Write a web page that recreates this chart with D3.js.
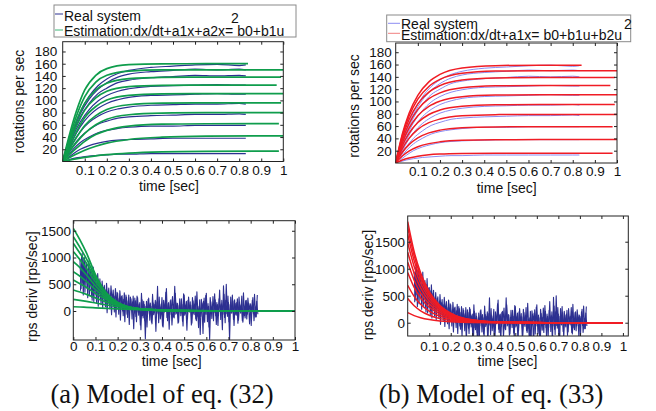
<!DOCTYPE html>
<html>
<head>
<meta charset="utf-8">
<script src="https://cdn.jsdelivr.net/npm/d3@7"></script>
<style>
  body { margin: 0; background: #fff; }
  svg { display: block; }
</style>
</head>
<body>
<script>

// sample times of the estimated responses
var estTimes = [0, 0.03, 0.06, 0.1, 0.15, 0.2, 0.3, 0.45, 0.65, 1.0];

// model of eq. (32): rotations per sec, one row per experiment
var rpsA = [
    [0, 43, 80, 117, 141, 152, 158.4, 159.8, 160, 160],
    [0, 38, 72, 106, 130, 141, 148, 149.8, 150, 150],
    [0, 34, 64, 95, 117, 128, 135.6, 137.7, 138, 138],
    [0, 30, 56, 84, 104, 115, 122.5, 124.6, 125, 125],
    [0, 25, 47, 72, 90, 100.5, 108.2, 110.5, 111, 111],
    [0, 20, 38, 59, 75, 85, 92.8, 95.4, 96, 96],
    [0, 16, 30, 46, 60, 69, 76.5, 79.2, 79.9, 80],
    [0, 11, 21, 33, 44, 51, 58, 61, 61.8, 62],
    [0, 6.2, 11.8, 18.5, 25, 30, 36, 39.8, 41.4, 42],
    [0, 2.3, 4.4, 6.8, 9.3, 11.2, 13.8, 15.8, 16.7, 17]
];
var rpsEndA = [0.84, 1.0, 0.99, 0.97, 1.0, 0.99, 1.0, 0.98, 1.0, 0.98];

// model of eq. (32): rps derivative
var derivA = [
    [1545, 1330, 1080, 680, 330, 150, 30, 3, 0, 0],
    [1390, 1190, 970, 640, 330, 160, 35, 4, 0, 0],
    [1265, 1080, 890, 600, 320, 160, 38, 5, 0, 0],
    [1110, 960, 790, 540, 300, 155, 40, 6, 0, 0],
    [922, 810, 670, 470, 270, 145, 40, 7, 0, 0],
    [735, 650, 550, 400, 240, 135, 40, 8, 1, 0],
    [579, 510, 440, 330, 210, 120, 40, 9, 1, 0],
    [393, 355, 310, 245, 165, 105, 38, 10, 2, 0],
    [218, 200, 180, 150, 112, 80, 38, 12, 3, 0],
    [80, 75, 68, 60, 50, 40, 24, 11, 3, 0]
];

// model of eq. (33): rotations per sec
var rpsB = [
    [0, 47.2, 80.5, 110.0, 131.8, 143.9, 154.4, 158.2, 159, 159],
    [0, 44.6, 75.9, 103.8, 124.4, 135.8, 145.7, 149.3, 150, 150],
    [0, 41.3, 70.3, 96.2, 115.2, 125.8, 135.0, 138.3, 139, 139],
    [0, 37.4, 63.8, 87.2, 104.5, 114.0, 122.3, 125.4, 126, 126],
    [0, 33.0, 56.2, 76.8, 92.0, 100.5, 107.8, 110.4, 111, 111],
    [0, 28.2, 48.1, 65.7, 78.8, 86.0, 92.2, 94.5, 95, 95],
    [0, 23.5, 40.0, 54.7, 65.5, 71.5, 76.7, 78.6, 79, 79],
    [0, 17.5, 29.9, 40.8, 48.9, 53.4, 57.3, 58.7, 59, 59],
    [0, 11.3, 19.2, 26.3, 31.5, 34.4, 36.9, 37.8, 38, 38],
    [0, 4.8, 8.1, 11.1, 13.3, 14.5, 15.5, 15.9, 16, 16]
];
var rpsEndB = [0.84, 1.0, 0.99, 0.97, 1.0, 0.99, 1.0, 0.98, 1.0, 0.98];

// model of eq. (33): rps derivative
var derivB = [
    [1870, 1315, 924, 576, 320, 178, 54, 9, 1, 0],
    [1765, 1241, 872, 544, 302, 168, 51, 9, 1, 0],
    [1635, 1149, 808, 504, 280, 155, 47, 8, 1, 0],
    [1482, 1042, 732, 456, 253, 141, 43, 7, 1, 0],
    [1306, 918, 645, 402, 223, 124, 38, 7, 1, 0],
    [1118, 786, 552, 344, 191, 106, 32, 6, 1, 0],
    [929, 653, 459, 286, 159, 88, 27, 5, 0, 0],
    [694, 488, 343, 214, 119, 66, 20, 3, 0, 0],
    [447, 314, 221, 138, 76, 42, 13, 2, 0, 0],
    [188, 132, 93, 58, 32, 18, 5, 1, 0, 0]
];

// measured ("real system") rotations per sec
var realTimes = [0.02, 0.05, 0.08, 0.12, 0.16, 0.2, 0.25, 0.3, 0.4, 0.5, 0.6, 0.7, 0.8, 0.83];
var rpsReal = [
    [19, 55, 82, 107, 124, 135, 144, 149, 154, 156, 158, 159, 157, 158],
    [18, 52, 78, 102, 118, 129, 138, 143, 147, 149, 151, 150, 151, 150],
    [17, 49, 73, 95, 111, 120, 129, 133, 137, 139, 141, 140, 141, 140],
    [15, 44, 65, 85, 99, 108, 115, 119, 123, 124, 125, 126, 125, 125],
    [13, 38, 57, 75, 87, 95, 101, 105, 108, 109, 110, 111, 110, 110],
    [11, 33, 49, 64, 74, 81, 86, 89, 92, 93, 94, 94, 95, 94],
    [9, 27, 40, 52, 61, 66, 71, 73, 75, 76, 77, 77, 78, 77],
    [7, 21, 31, 40, 47, 51, 54, 56, 58, 58, 59, 59, 59, 59],
    [5, 13, 20, 26, 30, 33, 35, 36, 37, 38, 38, 38, 38, 38],
    [2, 5, 7, 9, 10, 11, 12, 12, 13, 13, 13, 13, 13, 13]
];

// measured derivative, two interleaved records sampled every 5 ms
var derivRealStart = [0.03, 0.0325];
var derivRealStep = 0.005;
var derivReal1 = [
    950, 420, 1080, 300, 1000, 560, 880, 250, 940, 480,
    780, 200, 820, 390, 650, 150, 700, 330, 600, 120,
    560, 260, 480, 80, 520, 210, 430, 40, 470, 180,
    390, -20, 420, 150, 330, -60, 380, 110, 290, -90,
    340, 60, 260, -120, 300, 20, 230, -150, 280, -40,
    190, -200, 250, -80, 160, -350, 210, -130, 120, -520,
    180, -60, 240, -170, 90, -240, 150, -30, 200, -110,
    460, -220, 130, -60, 250, -300, 100, 10, 420, -180,
    160, -70, 210, -260, 80, -130, 330, -40, 140, -210,
    230, -90, 120, -280, 300, -50, 180, -150, 260, -20,
    110, -230, 190, -70, 280, -180, 70, -310, 210, -100,
    150, -420, 240, -60, 330, -200, 90, -530, 170, -140,
    270, -30, 210, -250, 120, -90, 390, -160, 200, -60,
    310, -220, 500, -100, 160, -550, 260, -40, 190, -270,
    140, -80, 230, -170, 110, -40, 280, -210, 90, -130,
    200, -60, 150, -240, 120, -20, 250, -180, 80, -110, 300
];
var derivReal2 = [
    380, 1020, 520, 960, 350, 900, 420, 820, 300, 760,
    260, 700, 180, 640, 300, 590, 90, 540, 230, 480,
    60, 450, 190, 400, -30, 370, 120, 330, -70, 300,
    90, 280, -110, 350, 40, 240, -170, 270, 0, 220,
    -200, 300, -60, 190, -250, 260, 30, 170, -330, 240,
    -100, 280, -20, 130, -260, 330, -90, 180, -180, 90,
    -300, 220, 40, 150, -210, 310, -70, 120, -380, 170,
    -40, 260, -150, 80, -280, 200, -20, 350, -120, 140,
    -340, 190, 0, 270, -110, 460, -60, 150, -230, 100,
    -20, 230, -190, 320, -80, 110, -360, 200, 10, 170,
    -260, 250, -40, 130, -150, 360, -100, 90, -440, 220,
    30, 180, -210, 290, -60, 140, -300, 250, 0, 100,
    -180, 320, -90, 160, -270, 230, 20, 130, -350, 470,
    -120, 200, -50, 280, -200, 120, -30, 300, -160, 210,
    -60, 160, -230, 260, -10, 120, -180, 340, -90, 190,
    -150, 240, 10, 140, -270, 200, -50, 310, -110, 180, -60
];

// ticks and labels
var timeTicks = [0.1, 0.2, 0.3, 0.4, 0.5, 0.6, 0.7, 0.8, 0.9, 1];
var timeTicksWithZero = [0, 0.1, 0.2, 0.3, 0.4, 0.5, 0.6, 0.7, 0.8, 0.9, 1];
var rpsTicks = [20, 40, 60, 80, 100, 120, 140, 160, 180];
var derivTicks = [0, 500, 1000, 1500];
var legendA = ["Real system", "Estimation:dx/dt+a1x+a2x= b0+b1u"];
var legendB = ["Real system", "Estimation:dx/dt+a1x= b0+b1u+b2u"];
var captions = ["(a) Model of eq. (32)", "(b) Model of eq. (33)"];


var SANS = "'Liberation Sans', Arial, Helvetica, sans-serif";
var SERIF = "'Liberation Serif', 'Times New Roman', Times, serif";

var NAVY = "#2d3091";
var LIGHTBLUE = "#8c8cf2";
var GREEN = "#0f9d4c";
var RED = "#f01c24";

var svg = d3.select("body")
    .append("svg")
    .attr("width", 656)
    .attr("height", 411);

var clipCount = 0;

function fmtTick(d) {
    return String(d);
}

function drawPanel(p) {
    var x = d3.scaleLinear().domain(p.xDomain).range([p.left, p.right]);
    var y = d3.scaleLinear().domain(p.yDomain).range([p.bottom, p.top]);

    var clipId = "clip" + (clipCount++);
    svg.append("clipPath").attr("id", clipId)
        .append("rect")
        .attr("x", p.left).attr("y", p.top)
        .attr("width", p.right - p.left).attr("height", p.bottom - p.top);

    var plot = svg.append("g").attr("clip-path", "url(#" + clipId + ")");

    var smooth = d3.line()
        .x(function (d) { return x(d[0]); })
        .y(function (d) { return y(d[1]); })
        .curve(d3.curveMonotoneX);
    var raw = d3.line()
        .x(function (d) { return x(d[0]); })
        .y(function (d) { return y(d[1]); });

    // measured data first, the estimations on top
    p.series.forEach(function (s) {
        plot.selectAll(null)
            .data(s.rows)
            .enter()
            .append("path")
            .attr("d", function (row) { return s.noisy ? raw(row) : smooth(row); })
            .attr("fill", "none")
            .attr("stroke", s.color)
            .attr("stroke-width", s.width)
            .attr("stroke-linejoin", "round");
    });

    // box
    svg.append("rect")
        .attr("x", p.left).attr("y", p.top)
        .attr("width", p.right - p.left).attr("height", p.bottom - p.top)
        .attr("fill", "none")
        .attr("stroke", "#222")
        .attr("stroke-width", 1);

    var bottomAxis = svg.append("g")
        .attr("transform", "translate(0," + p.bottom + ")")
        .call(d3.axisBottom(x).tickValues(p.xTicks).tickSize(-3).tickPadding(p.xPad).tickFormat(fmtTick));
    var topAxis = svg.append("g")
        .attr("transform", "translate(0," + p.top + ")")
        .call(d3.axisTop(x).tickValues(p.xTicks).tickSize(-3).tickFormat(""));
    var leftAxis = svg.append("g")
        .attr("transform", "translate(" + p.left + ",0)")
        .call(d3.axisLeft(y).tickValues(p.yTicks).tickSize(-3).tickPadding(p.yPad).tickFormat(fmtTick));
    var rightAxis = svg.append("g")
        .attr("transform", "translate(" + p.right + ",0)")
        .call(d3.axisRight(y).tickValues(p.yTicks).tickSize(-3).tickFormat(""));

    [bottomAxis, topAxis, leftAxis, rightAxis].forEach(function (a) {
        a.select(".domain").remove();
        a.selectAll(".tick line").attr("stroke", "#222");
        a.attr("font-family", SANS).attr("font-size", 13.5);
        a.selectAll("text").attr("fill", "#111");
    });

    svg.append("text")
        .attr("x", p.xTitle[0]).attr("y", p.xTitle[1])
        .attr("text-anchor", "middle")
        .style("font-family", SANS).style("font-size", "14px")
        .attr("fill", "#111")
        .text("time [sec]");

    svg.append("text")
        .attr("transform", "translate(" + p.yTitle[0] + "," + p.yTitle[1] + ") rotate(-90)")
        .attr("text-anchor", "middle")
        .attr("dy", "0.35em")
        .style("font-family", SANS).style("font-size", "14px")
        .attr("fill", "#111")
        .text(p.yLabel);
}

function drawLegend(l) {
    svg.append("rect")
        .attr("x", l.x).attr("y", l.y)
        .attr("width", l.w).attr("height", l.h)
        .attr("fill", "#fff")
        .attr("stroke", "#8a8a8a")
        .attr("stroke-width", 1);

    l.labels.forEach(function (txt, i) {
        svg.append("line")
            .attr("x1", l.lineX[0]).attr("x2", l.lineX[1])
            .attr("y1", l.lineY[i]).attr("y2", l.lineY[i])
            .attr("stroke", l.colors[i])
            .attr("stroke-width", 1);
        svg.append("text")
            .attr("x", l.textX).attr("y", l.baselines[i])
            .style("font-family", SANS).style("font-size", "14px")
            .attr("fill", "#111")
            .text(txt);
    });

    // the exponent sits on its own line, as in the original export
    svg.append("text")
        .attr("x", l.sup[0]).attr("y", l.sup[1])
        .attr("text-anchor", "middle")
        .style("font-family", SANS).style("font-size", "14px")
        .attr("fill", "#111")
        .text("2");
}

function estRows(rows, ends) {
    return rows.map(function (row, i) {
        return row.map(function (v, j) {
            var t = ends ? Math.min(estTimes[j], ends[i]) : estTimes[j];
            return [t, v];
        });
    });
}

var realRows = rpsReal.map(function (row) {
    return row.map(function (v, j) { return [realTimes[j], v]; });
});

var derivRealRows = [derivReal1, derivReal2].map(function (rec, k) {
    return rec.map(function (v, i) { return [derivRealStart[k] + i * derivRealStep, v]; });
});

// top left: rps, model (32)
drawPanel({
    left: 62.7, right: 283.3, top: 41.7, bottom: 161.5,
    xDomain: [0, 1], yDomain: [0, 196],
    xTicks: timeTicks, yTicks: rpsTicks, xPad: 3.5, yPad: 5.4,
    xTitle: [169, 191], yTitle: [19, 101.5], yLabel: "rotations per sec",
    series: [
        {rows: realRows, color: NAVY, width: 1.2},
        {rows: estRows(rpsA, rpsEndA), color: GREEN, width: 1.7}
    ]
});

// top right: rps, model (33)
drawPanel({
    left: 395.7, right: 617, top: 43, bottom: 163,
    xDomain: [0, 1], yDomain: [0, 195],
    xTicks: timeTicks, yTicks: rpsTicks, xPad: 3.7, yPad: 4,
    xTitle: [506.7, 193], yTitle: [354, 106], yLabel: "rotations per sec",
    series: [
        {rows: realRows, color: LIGHTBLUE, width: 1},
        {rows: estRows(rpsB, rpsEndB), color: RED, width: 1.5}
    ]
});

// bottom left: derivative, model (32)
drawPanel({
    left: 73.3, right: 295, top: 220.7, bottom: 340,
    xDomain: [0, 1], yDomain: [-542, 1688],
    xTicks: timeTicksWithZero, yTicks: derivTicks, xPad: 1.7, yPad: 2.3,
    xTitle: [171.8, 366], yTitle: [32, 286.7], yLabel: "rps deriv [rps/sec]",
    series: [
        {rows: derivRealRows, color: NAVY, width: 1.1, noisy: true},
        {rows: estRows(derivA, null), color: GREEN, width: 1.7}
    ]
});

// bottom right: derivative, model (33)
drawPanel({
    left: 407.7, right: 628.3, top: 216, bottom: 336,
    xDomain: [0, 1.025], yDomain: [-246, 1976],
    xTicks: timeTicks, yTicks: derivTicks, xPad: 5.7, yPad: 2.7,
    xTitle: [507.5, 366], yTitle: [368.3, 285], yLabel: "rps deriv [rps/sec]",
    series: [
        {rows: derivRealRows, color: NAVY, width: 1.1, noisy: true},
        {rows: estRows(derivB, null), color: RED, width: 1.5}
    ]
});

drawLegend({
    x: 54, y: 5, w: 242, h: 32,
    lineX: [55, 63], lineY: [14, 30], textX: 64, baselines: [20.5, 35.5],
    colors: [NAVY, "#3cb878"], labels: legendA, sup: [235, 23]
});

drawLegend({
    x: 386.7, y: 15, w: 244, h: 26.7,
    lineX: [388, 400], lineY: [23.3, 33.3], textX: 401, baselines: [28.5, 39.5],
    colors: [LIGHTBLUE, "#f08080"], labels: legendB, sup: [628, 28.5]
});

// sub-figure captions
svg.selectAll("text.caption")
    .data(captions)
    .enter()
    .append("text")
    .attr("class", "caption")
    .attr("x", function (d, i) { return i === 0 ? 162 : 491; })
    .attr("y", 403)
    .attr("text-anchor", "middle")
    .style("font-family", SERIF)
    .style("font-size", "26.5px")
    .attr("fill", "#111")
    .text(function (d) { return d; });

</script>
</body>
</html>
